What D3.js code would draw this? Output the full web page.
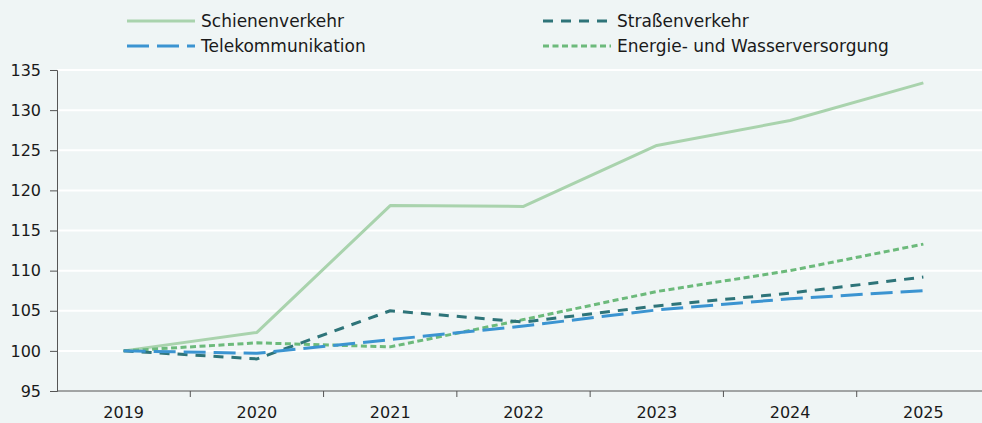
<!DOCTYPE html>
<html><head><meta charset="utf-8">
<script src="https://cdn.jsdelivr.net/npm/d3@7"></script>
<style>
html,body{margin:0;padding:0;background:#eff5f5;}
svg{display:block;font-family:"DejaVu Sans",sans-serif;}
</style></head>
<body>
<svg id="c" width="982" height="423"></svg>
<script>
const years = ["2019","2020","2021","2022","2023","2024","2025"];
const schiene = [100, 102.3, 118.1, 118.0, 125.6, 128.7, 133.4];
const strasse = [100, 99.0, 105.0, 103.6, 105.6, 107.2, 109.2];
const tele = [100, 99.7, 101.4, 103.1, 105.1, 106.5, 107.5];
const energie = [100, 101.0, 100.5, 103.9, 107.4, 110.0, 113.3];
const yTicks = [95,100,105,110,115,120,125,130,135];
const seriesNames = ["Schienenverkehr","Straßenverkehr","Telekommunikation","Energie- und Wasserversorgung"];

(function(){
const series = [
  {name: seriesNames[0], values: schiene, color:"#a9d3ad", dash:null, w:3},
  {name: seriesNames[1], values: strasse, color:"#2e7479", dash:"10,8", w:3},
  {name: seriesNames[2], values: tele, color:"#3b94d1", dash:"22,8", w:3},
  {name: seriesNames[3], values: energie, color:"#6cba7b", dash:"6,3.5", w:3}
];

const svg = d3.select("#c");
const mLeft = 57, mRight = 990, mTop = 70, mBottom = 391;
const x = d3.scaleBand().domain(years).range([mLeft, mRight]);
const y = d3.scaleLinear().domain([95,135]).range([mBottom, mTop]);
const ff = '"DejaVu Sans",sans-serif';

// grid
svg.append("g").selectAll("line").data(yTicks.filter(d=>d>95)).join("line")
  .attr("x1", mLeft).attr("x2", 982).attr("y1", d=>y(d)).attr("y2", d=>y(d))
  .attr("stroke","#ffffff").attr("stroke-width",2);

// y axis
const ya = svg.append("g").attr("transform",`translate(${mLeft},0)`)
  .call(d3.axisLeft(y).tickValues(yTicks).tickSize(7).tickPadding(9).tickFormat(d3.format("d")));
ya.select(".domain").attr("stroke","#555").attr("stroke-width",1);
ya.selectAll(".tick line").attr("stroke","#555");
ya.selectAll("text").attr("font-size",16).attr("fill","#1a1a1a").style("font-family",ff);

// x axis
const xa = svg.append("g").attr("transform",`translate(0,${mBottom})`)
  .call(d3.axisBottom(x).tickSize(0).tickPadding(16));
xa.select(".domain").attr("stroke","#555").attr("d",`M${mLeft},0H982`);
xa.selectAll("text").attr("font-size",16).attr("fill","#1a1a1a").style("font-family",ff);
svg.append("g").selectAll("line").data(years.slice(1)).join("line")
  .attr("x1", d=>x(d)).attr("x2", d=>x(d)).attr("y1", mBottom).attr("y2", mBottom+6)
  .attr("stroke","#555");

// lines
const line = d3.line().x((d,i)=>x(years[i])+x.bandwidth()/2).y(d=>y(d));
[0,3,1,2].forEach(k=>{
  const s = series[k];
  svg.append("path").datum(s.values).attr("d", line)
    .attr("fill","none").attr("stroke", s.color).attr("stroke-width", s.w)
    .attr("stroke-dasharray", s.dash).attr("stroke-linejoin","round");
});

// legend
const leg = [
  {s:series[0], x:127, y:21},
  {s:series[1], x:543, y:21},
  {s:series[2], x:127, y:46},
  {s:series[3], x:543, y:46}
];
leg.forEach(l=>{
  svg.append("line").attr("x1", l.x).attr("x2", l.x+68).attr("y1", l.y).attr("y2", l.y)
    .attr("stroke", l.s.color).attr("stroke-width",3).attr("stroke-dasharray", l.s.dash);
  svg.append("text").attr("x", l.x+74).attr("y", l.y).attr("dy","0.35em")
    .attr("font-size",17).attr("fill","#1a1a1a").text(l.s.name);
});
})();
</script>
</body></html>
